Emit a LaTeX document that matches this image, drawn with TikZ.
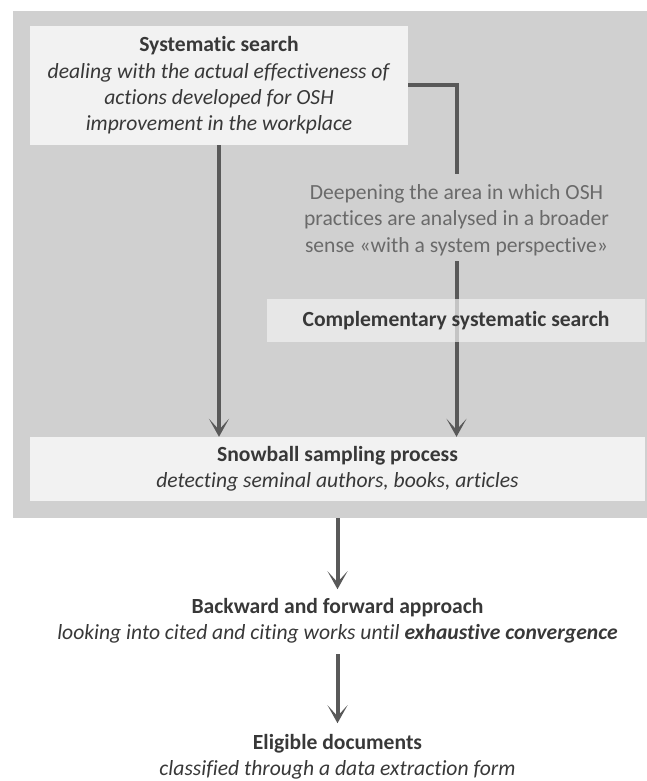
\documentclass[tikz,border=0pt]{standalone}
\usepackage{fontspec}
\setmainfont{Carlito}[Ligatures=NoCommon]
\usetikzlibrary{arrows.meta}
\pgfdeclarelayer{panellayer}
\pgfdeclarelayer{wires}
\pgfsetlayers{panellayer,wires,main}
\definecolor{panelgray}{HTML}{D0D0D0}
\definecolor{boxfill}{HTML}{F2F2F2}
\definecolor{wire}{HTML}{595959}
\definecolor{ink}{HTML}{383838}
\definecolor{softink}{HTML}{6A6A6A}
\begin{document}
\begin{tikzpicture}[x=1pt,y=-1pt,
  txt/.style={font=\fontsize{21.6}{26.3}\selectfont, text=ink, align=center, inner sep=0pt},
  box/.style={txt, fill=boxfill, minimum height=#1},
  conn/.style={draw=wire, line width=4pt},
  arr/.style={conn, -{Stealth[length=18pt,width=20pt,inset=11pt]}},
]
\useasboundingbox (0,0) rectangle (647,781);
\begin{pgfonlayer}{panellayer}
\node[fill=panelgray, minimum width=634pt, minimum height=507pt, inner sep=0pt] (panel) at (330,264.5) {};
\end{pgfonlayer}

\node[box=119pt, minimum width=378pt] (sys) at (219,85.5)
  {\textbf{Systematic search}\\\textit{dealing with the actual effectiveness of}\\\textit{actions developed for OSH}\\\textit{improvement in the workplace}};
\node[txt, text=softink] (deep) at (456.5,220)
  {Deepening the area in which OSH\\practices are analysed in a broader\\sense «with a system perspective»};
\node[box=43pt, minimum width=378pt, fill opacity=0.7, text opacity=1] (comp) at (456,320.5)
  {\textbf{Complementary systematic search}};
\node[box=64pt, minimum width=615pt] (snow) at (337.5,469)
  {\textbf{Snowball sampling process}\\\textit{detecting seminal authors, books, articles}};
\node[txt] (back) at (337.5,621)
  {\textbf{Backward and forward approach}\\\textit{looking into cited and citing works until \textbf{exhaustive convergence}}};
\node[txt] (elig) at (337.5,757)
  {\textbf{Eligible documents}\\\textit{classified through a data extraction form}};

\begin{pgfonlayer}{wires}
\draw[conn] (sys.east) -| ([yshift=10pt]deep.north);
\draw[arr] ([yshift=-5.5pt]deep.south) -- (deep.south |- snow.north);
\draw[arr] (sys.south) -- (sys.south |- snow.north);
\draw[arr] (panel.south -| snow.south) -- ([yshift=9pt]back.north);
\draw[arr] ([yshift=-10.5pt]back.south) -- ([yshift=11pt]elig.north);
\end{pgfonlayer}
\end{tikzpicture}
\end{document}
